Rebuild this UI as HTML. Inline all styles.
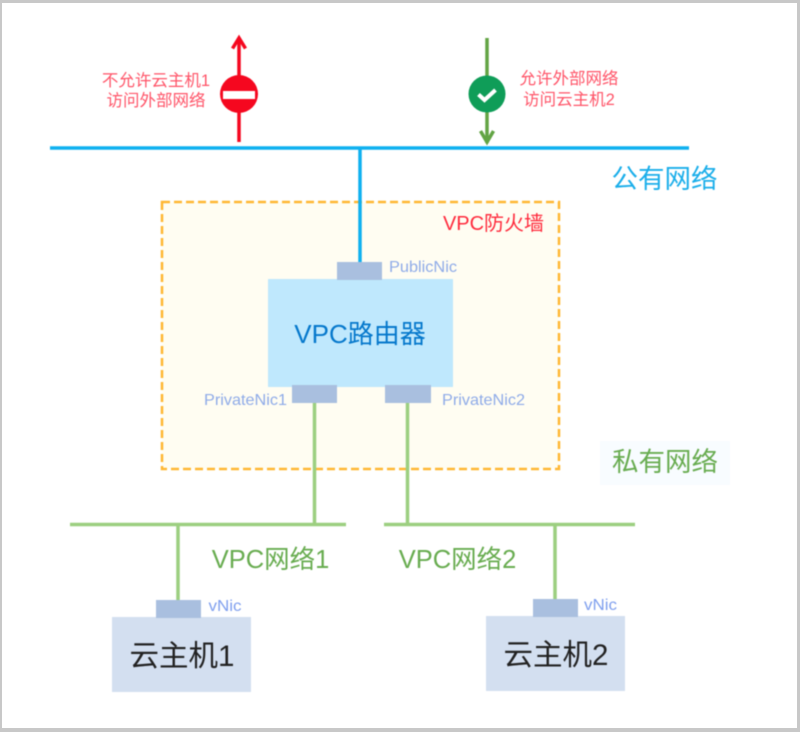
<!DOCTYPE html>
<html><head><meta charset="utf-8"><style>
html,body{margin:0;padding:0;background:#fff;width:800px;height:732px;overflow:hidden}
svg{display:block}
text{font-family:"Liberation Sans","Noto Sans CJK SC",sans-serif}
</style></head><body>
<svg width="800" height="732" viewBox="0 0 800 732" xmlns="http://www.w3.org/2000/svg">
<rect x="0" y="0" width="800" height="732" fill="#c8c8c8"/>
<rect x="2" y="3" width="795" height="725" fill="#fff"/>
<g style="filter:blur(.4px)">
<rect x="600" y="441" width="130" height="44" fill="#f8fcff"/>
<rect x="162" y="202" width="397" height="267" fill="#fffdf2" stroke="#ffb732" stroke-width="2.5" stroke-dasharray="8 4"/>
<line x1="50" y1="148" x2="689" y2="148" stroke="#0eb0f0" stroke-width="3.5"/>
<line x1="360" y1="148" x2="360" y2="263" stroke="#0eb0f0" stroke-width="3.5"/>
<rect x="268" y="279" width="185" height="108" fill="#bfe8fd"/>
<rect x="337" y="262" width="45" height="18" fill="#a9bfdf"/>
<rect x="292" y="385" width="45" height="18" fill="#a9bfdf"/>
<rect x="385" y="385" width="46" height="18" fill="#a9bfdf"/>
<g stroke="#9ccf80" stroke-width="3.5" fill="none">
<line x1="314.5" y1="403" x2="314.5" y2="525"/>
<line x1="407.5" y1="403" x2="407.5" y2="525"/>
<line x1="70" y1="524.5" x2="346" y2="524.5"/>
<line x1="384" y1="524.5" x2="635" y2="524.5"/>
<line x1="178" y1="525" x2="178" y2="600"/>
<line x1="555" y1="525" x2="555" y2="599"/>
</g>
<rect x="112" y="617" width="139" height="75" fill="#d3dff0"/>
<rect x="486" y="616" width="139" height="75" fill="#d3dff0"/>
<rect x="156" y="600" width="45" height="18" fill="#a9bfdf"/>
<rect x="533" y="599" width="45" height="18" fill="#a9bfdf"/>
<line x1="239" y1="142" x2="239" y2="38" stroke="#f5071f" stroke-width="3.5"/>
<polyline points="232.5,48.5 239,38 245.5,48.5" fill="none" stroke="#f5071f" stroke-width="3.5"/>
<circle cx="239" cy="94" r="19" fill="#f5071f"/>
<rect x="223" y="91" width="32" height="8" fill="#fff"/>
<line x1="487" y1="38" x2="487" y2="143" stroke="#62a444" stroke-width="3.5"/>
<polyline points="480.5,131 487,142 493.5,131" fill="none" stroke="#62a444" stroke-width="3.5"/>
<circle cx="487" cy="94" r="18.5" fill="#0f9d58"/>
<polyline points="478.5,94.5 484.5,100 495.5,90" fill="none" stroke="#fff" stroke-width="4"/>
<g text-anchor="middle">
<text x="156" y="86" font-size="16.5" fill="#ff5468">不允许云主机1</text>
<text x="156" y="106" font-size="16.5" fill="#ff5468">访问外部网络</text>
<text x="569" y="84" font-size="16.5" fill="#ff5468">允许外部网络</text>
<text x="569" y="105" font-size="16.5" fill="#ff5468">访问云主机2</text>
<text x="664.5" y="188" font-size="26.5" fill="#1aaeea">公有网络</text>
<text x="665" y="471" font-size="26.5" fill="#68ac50">私有网络</text>
<text x="493.5" y="230" font-size="20" fill="#ff2a3c">VPC防火墙</text>
<text x="360" y="343" font-size="26" fill="#0578cc">VPC路由器</text>
<text x="270.5" y="568" font-size="25.5" fill="#68ac50">VPC网络1</text>
<text x="457.5" y="568" font-size="25.5" fill="#68ac50">VPC网络2</text>
<text x="182" y="666" font-size="29.5" fill="#222">云主机1</text>
<text x="556" y="665" font-size="29.5" fill="#222">云主机2</text>
<text x="423" y="272" font-size="16" fill="#8fabe8" textLength="68" lengthAdjust="spacingAndGlyphs">PublicNic</text>
<text x="245.5" y="405" font-size="16" fill="#8fabe8" textLength="83" lengthAdjust="spacingAndGlyphs">PrivateNic1</text>
<text x="483.5" y="405" font-size="16" fill="#8fabe8" textLength="83" lengthAdjust="spacingAndGlyphs">PrivateNic2</text>
<text x="225" y="611" font-size="16" fill="#7f9fee" textLength="33" lengthAdjust="spacingAndGlyphs">vNic</text>
<text x="600.5" y="610" font-size="16" fill="#7f9fee" textLength="33" lengthAdjust="spacingAndGlyphs">vNic</text>
</g>
</g>
</svg>
</body></html>
